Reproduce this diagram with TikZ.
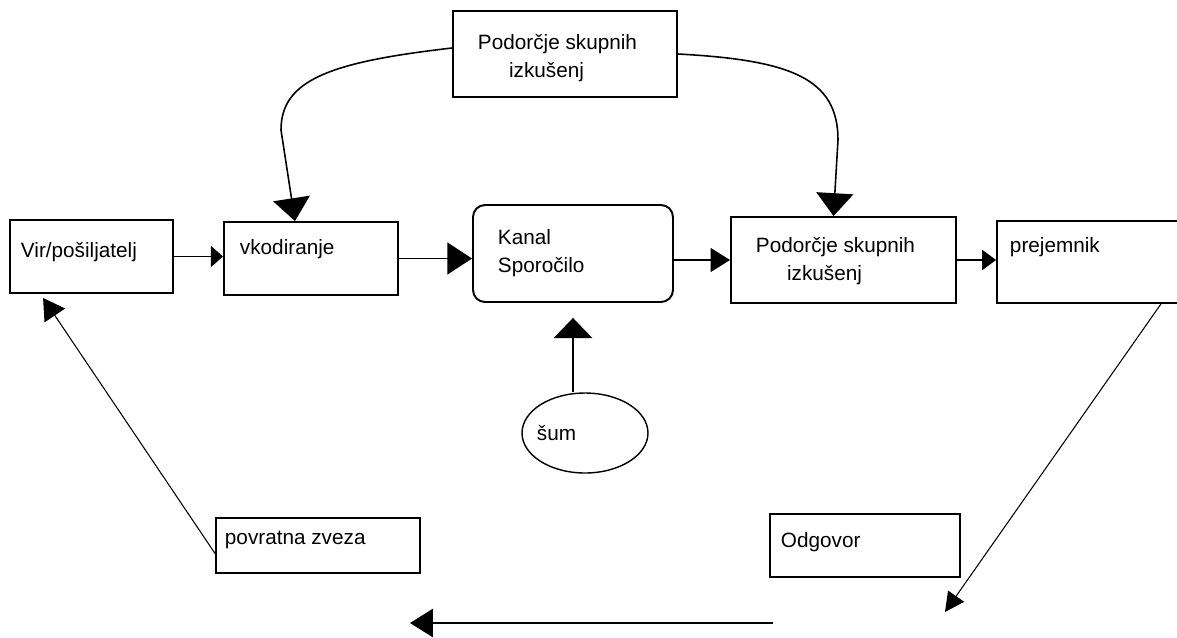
\documentclass[tikz,border=0pt]{standalone}
\usepackage{fontspec}
\setmainfont{Liberation Sans}
\usetikzlibrary{arrows.meta,calc,shapes.geometric}

\begin{document}
\begin{tikzpicture}[x=0.02cm, y=-0.02cm, line width=1.1pt,
  box/.style={draw, rectangle, inner sep=0pt},
  txt/.style={anchor=west, inner sep=0pt, align=left, font=\fontsize{11.8}{16}\selectfont},
  tri/.style 2 args={-{Triangle[length=#1, width=#2]}}]
  \useasboundingbox (0,0) rectangle (1177,637);

  \node[box, minimum width=4.48cm, minimum height=1.72cm] (shared) at (565,54) {};
  \node[box, minimum width=3.26cm, minimum height=1.46cm] (vir) at (91.5,256.5) {};
  \node[box, minimum width=3.48cm, minimum height=1.46cm] (vkod) at (311,258.5) {};
  \node[box, rounded corners=0.24cm, minimum width=4cm, minimum height=1.94cm] (kanal) at (573,253.5) {};
  \node[box, minimum width=4.5cm, minimum height=1.72cm] (mid) at (843.5,260) {};
  \node[box, minimum width=3.68cm, minimum height=1.64cm] (prej) at (1089,262) {};
  \node[draw, ellipse, line width=0.8pt, inner sep=0pt, minimum width=2.52cm, minimum height=1.6cm] (sum) at (585,433) {};
  \node[box, minimum width=4.08cm, minimum height=1.1cm] (povr) at (318,545.5) {};
  \node[box, minimum width=3.8cm, minimum height=1.26cm] (odg) at (865,545.5) {};

  \node[txt] (sharedtxt) at (477,58) {Podorčje skupnih\\\hspace*{1.5em}izkušenj};
  \node[txt] (virtxt) at (20,252) {Vir/pošiljatelj};
  \node[txt] (vkodtxt) at (239,249) {vkodiranje};
  \node[txt] (kanaltxt) at (497,253) {Kanal\\Sporočilo};
  \node[txt] (midtxt) at (755,261.5) {Podorčje skupnih\\\hspace*{1.5em}izkušenj};
  \node[txt] (prejtxt) at (1009,247) {prejemnik};
  \node[txt] (sumtxt) at (536,433) {šum};
  \node[txt] (povrtxt) at (224,540) {povratna zveza};
  \node[txt] (odgtxt) at (780,542) {Odgovor};

  \coordinate (odgtip) at (945,612);
  \coordinate (backR) at (773,623);
  \coordinate (backL) at (410,623);

  \draw[tri={7pt}{12pt}] (vir.east) -- (vir.east -| vkod.west);
  \draw[tri={14pt}{18pt}] (vkod.east) -- (vkod.east -| kanal.west);
  \draw[tri={11pt}{13.5pt}] (mid.west -| kanal.east) -- (mid.west);
  \draw[tri={8pt}{11.5pt}] (mid.east) -- (mid.east -| prej.west);

  \draw[line width=0.9pt, tri={13pt}{21pt}] ($(shared.west)+(0,-6)$) .. controls (330,62) and (281,80) .. (281,130) -- ($(vkod.north)+(-16,0)$);
  \draw[line width=0.9pt, tri={13pt}{21pt}] (shared.east) .. controls (790,60) and (838,78) .. (838,140) -- ($(mid.north)+(-10,0)$);

  \draw[tri={11.5pt}{22pt}] (kanal.south |- sum.north) -- ($(kanal.south)+(0,15)$);

  \draw[line width=0.6pt, tri={12pt}{14pt}] ($(povr.west)+(0,8)$) -- ($(vir.south west)+(34,4)$);
  \draw[line width=0.6pt, tri={11pt}{11pt}] ($(prej.south east)+(-21,0)$) -- (odgtip);
  \draw[tri={13pt}{16pt}] (backR) -- (backL);
\end{tikzpicture}
\end{document}
